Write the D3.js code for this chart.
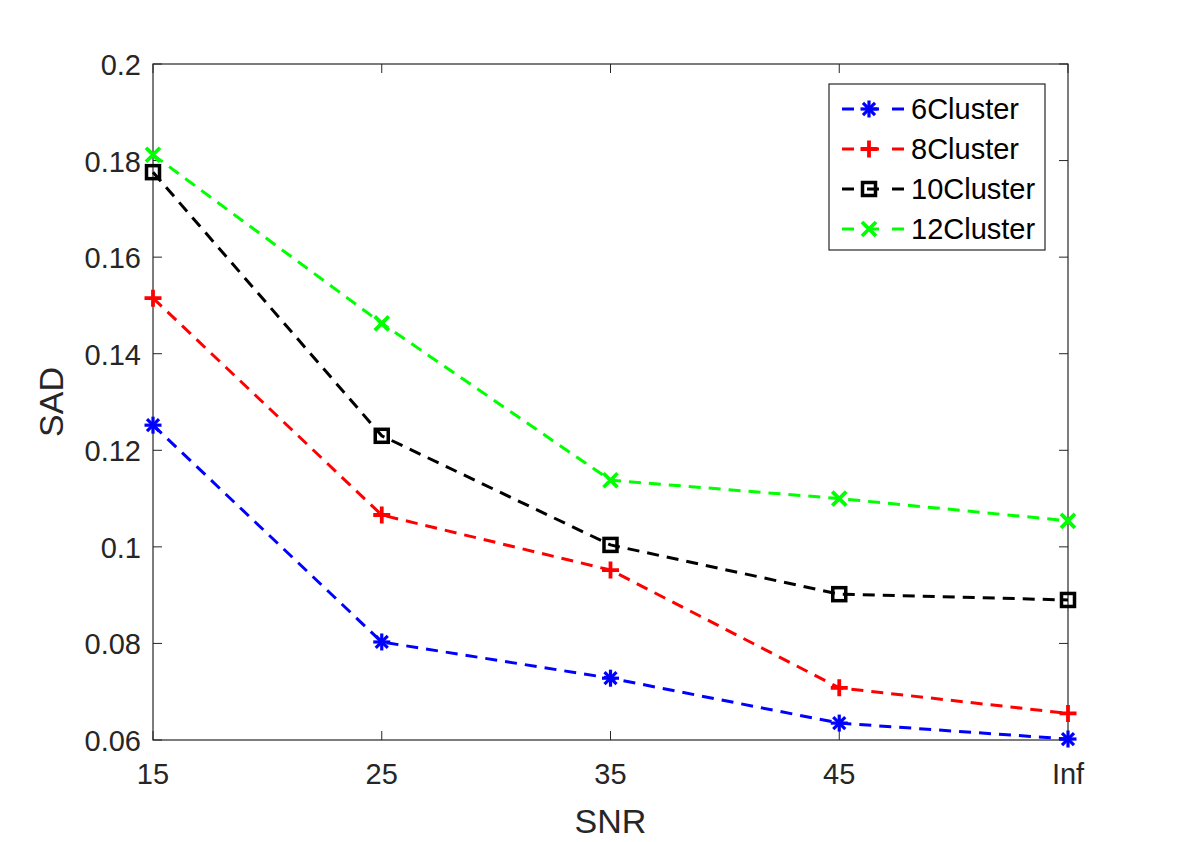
<!DOCTYPE html>
<html>
<head>
<meta charset="utf-8">
<script src="https://cdn.jsdelivr.net/npm/d3@7"></script>
<style>
  body { margin: 0; background: #fff; }
  text { font-family: "Liberation Sans", Arial, sans-serif; }
</style>
</head>
<body>
<svg id="chart" width="1180" height="842"></svg>
<script>
// data
const snr = ['15', '25', '35', '45', 'Inf'];
const cluster6 = [0.1252, 0.0803, 0.0728, 0.0635, 0.0602];
const cluster8 = [0.1515, 0.1066, 0.0952, 0.0708, 0.0655];
const cluster10 = [0.1776, 0.1230, 0.1004, 0.0902, 0.0890];
const cluster12 = [0.1812, 0.1463, 0.1138, 0.1100, 0.1054];
const yTicks = [0.06, 0.08, 0.1, 0.12, 0.14, 0.16, 0.18, 0.2];

const series = [
  { name: '6Cluster', values: cluster6, color: '#0000ff', marker: 'star' },
  { name: '8Cluster', values: cluster8, color: '#ff0000', marker: 'plus' },
  { name: '10Cluster', values: cluster10, color: '#000000', marker: 'square' },
  { name: '12Cluster', values: cluster12, color: '#00ff00', marker: 'cross' },
];

const svg = d3.select('#chart');
const L = 153, R = 1068, T = 64, B = 740;
const axisCol = '#262626';

const x = d3.scalePoint().domain(snr).range([L, R]);
const y = d3.scaleLinear().domain([0.06, 0.2]).range([B, T]);

// box
svg.append('rect')
  .attr('x', L).attr('y', T)
  .attr('width', R - L).attr('height', B - T)
  .attr('fill', 'none').attr('stroke', axisCol).attr('stroke-width', 1.2);

// ticks (inward, on all four sides)
const tl = 9;
snr.forEach((s) => {
  const xp = x(s);
  svg.append('line').attr('x1', xp).attr('x2', xp).attr('y1', B).attr('y2', B - tl)
    .attr('stroke', axisCol);
  svg.append('line').attr('x1', xp).attr('x2', xp).attr('y1', T).attr('y2', T + tl)
    .attr('stroke', axisCol);
  svg.append('text')
    .attr('x', xp).attr('y', B + 44)
    .attr('text-anchor', 'middle')
    .attr('font-size', 29).attr('fill', axisCol)
    .text(s);
});
yTicks.forEach((v) => {
  const yp = y(v);
  svg.append('line').attr('x1', L).attr('x2', L + tl).attr('y1', yp).attr('y2', yp)
    .attr('stroke', axisCol);
  svg.append('line').attr('x1', R).attr('x2', R - tl).attr('y1', yp).attr('y2', yp)
    .attr('stroke', axisCol);
  svg.append('text')
    .attr('x', L - 12).attr('y', yp + 11)
    .attr('text-anchor', 'end')
    .attr('font-size', 29).attr('fill', axisCol)
    .text(d3.format('~g')(v));
});

// axis labels
svg.append('text')
  .attr('x', (L + R) / 2).attr('y', 833)
  .attr('text-anchor', 'middle')
  .attr('font-size', 34).attr('fill', axisCol)
  .text('SNR');
svg.append('text')
  .attr('transform', `translate(63,${(T + B) / 2}) rotate(-90)`)
  .attr('text-anchor', 'middle')
  .attr('font-size', 34).attr('fill', axisCol)
  .text('SAD');

const drawMarker = (g, type, cx, cy, color) => {
  const s = 8.5;
  if (type === 'star') {
    [0, 45, 90, 135].forEach((a) => {
      const r = a * Math.PI / 180;
      g.append('line')
        .attr('x1', cx - s * Math.cos(r)).attr('y1', cy - s * Math.sin(r))
        .attr('x2', cx + s * Math.cos(r)).attr('y2', cy + s * Math.sin(r))
        .attr('stroke', color).attr('stroke-width', 3.2);
    });
  } else if (type === 'plus') {
    g.append('path')
      .attr('d', `M${cx - s},${cy}H${cx + s}M${cx},${cy - s}V${cy + s}`)
      .attr('stroke', color).attr('stroke-width', 3.8).attr('fill', 'none');
  } else if (type === 'square') {
    g.append('rect')
      .attr('x', cx - 6.5).attr('y', cy - 6.5).attr('width', 13).attr('height', 13)
      .attr('stroke', color).attr('stroke-width', 3.5).attr('fill', 'none');
  } else {
    const c = 7;
    g.append('path')
      .attr('d', `M${cx - c},${cy - c}L${cx + c},${cy + c}M${cx - c},${cy + c}L${cx + c},${cy - c}`)
      .attr('stroke', color).attr('stroke-width', 3.8).attr('fill', 'none');
  }
};

const line = d3.line().x((d, i) => x(snr[i])).y((d) => y(d));
const gL = svg.append('g');
const gM = svg.append('g');

series.forEach((s) => {
  gL.append('path')
    .attr('d', line(s.values))
    .attr('fill', 'none')
    .attr('stroke', s.color)
    .attr('stroke-width', 3)
    .attr('stroke-dasharray', '12,8');
  s.values.forEach((v, i) => drawMarker(gM, s.marker, x(snr[i]), y(v), s.color));
});

// legend
const lg = svg.append('g');
lg.append('rect')
  .attr('x', 829).attr('y', 84).attr('width', 216).attr('height', 166)
  .attr('fill', '#fff').attr('stroke', axisCol).attr('stroke-width', 1.2);
series.forEach((s, i) => {
  const ly = 109 + i * 40;
  lg.append('line').attr('x1', 842).attr('x2', 904).attr('y1', ly).attr('y2', ly)
    .attr('stroke', s.color).attr('stroke-width', 3).attr('stroke-dasharray', '12,13');
  drawMarker(lg, s.marker, 869, ly, s.color);
  lg.append('text')
    .attr('x', 911).attr('y', ly + 10)
    .attr('font-size', 29).attr('fill', '#000')
    .text(s.name);
});
</script>
</body>
</html>
